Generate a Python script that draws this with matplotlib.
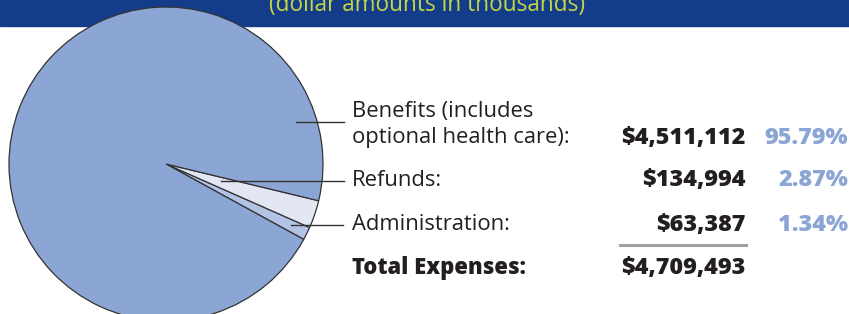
#!/usr/bin/env python3
import matplotlib
matplotlib.use('Agg')
import matplotlib.pyplot as plt
from matplotlib.patches import Rectangle

# data (dollar amounts in thousands)
categories = ['Administration', 'Refunds', 'Benefits']
amounts = [63387, 134994, 4511112]
percents = ['1.34%', '2.87%', '95.79%']
total_label = '$4,709,493'
labels_txt = ['Administration:', 'Refunds:', 'optional health care):']
amount_txt = ['$63,387', '$134,994', '$4,511,112']
colors = ['#b3c3e6', '#e3e7f4', '#8ba6d4']

W, H = 849, 314
fig = plt.figure(figsize=(W / 100, H / 100), dpi=100)
ax = fig.add_axes([0, 0, 1, 1])

def Y(py):
    # pixel row (from top) -> data y
    return H - py

# header band
ax.add_patch(Rectangle((0, Y(26)), W, 26, color='#133c8a', zorder=1))
ax.text(427, Y(11), '(dollar amounts in thousands)', color='#c5d641',
        fontsize=16.3, family='Open Sans', ha='center', va='baseline', zorder=2)

# pie
ax.pie(amounts, colors=colors, center=(166, Y(164)), radius=157,
       startangle=-28.7, counterclock=True,
       wedgeprops=dict(edgecolor='#333333', linewidth=0.9), frame=True)
for w in ax.patches[1:]:
    w.set_zorder(3)
ax.set_xlim(0, W)
ax.set_ylim(0, H)
ax.set_aspect('equal')
ax.axis('off')

# leader lines
ax.plot([296, 344], [Y(122), Y(122)], color='#333333', lw=1, zorder=4)
ax.plot([221, 344], [Y(181), Y(181)], color='#333333', lw=1, zorder=4)
ax.plot([291, 343], [Y(225), Y(225)], color='#333333', lw=1, zorder=4)

fs = 15.8
bfs = 16.8
txt_y = [225, 180, 138]
ax.text(352, Y(111), 'Benefits (includes', fontsize=fs, family='Open Sans',
        color='#231f20', ha='left', va='center')
for lab, amt, pct, ty in zip(labels_txt, amount_txt, percents, txt_y):
    ax.text(352, Y(ty), lab, fontsize=fs, family='Open Sans', color='#231f20',
            ha='left', va='center')
    ax.text(746, Y(ty), amt, fontsize=bfs, family='Open Sans', weight='extra bold',
            color='#231f20', ha='right', va='center')
    ax.text(848, Y(ty), pct, fontsize=bfs, family='Open Sans', weight='extra bold',
            color='#8ba6d4', ha='right', va='center')

ax.plot([620, 746], [Y(245), Y(245)], color='#a0a0a4', lw=2.2)
ax.text(352, Y(268), 'Total Expenses:', fontsize=fs, family='Open Sans',
        weight='extra bold', color='#231f20', ha='left', va='center')
ax.text(746, Y(268), total_label, fontsize=bfs, family='Open Sans', weight='extra bold',
        color='#231f20', ha='right', va='center')

fig.savefig('out.png', dpi=100)
